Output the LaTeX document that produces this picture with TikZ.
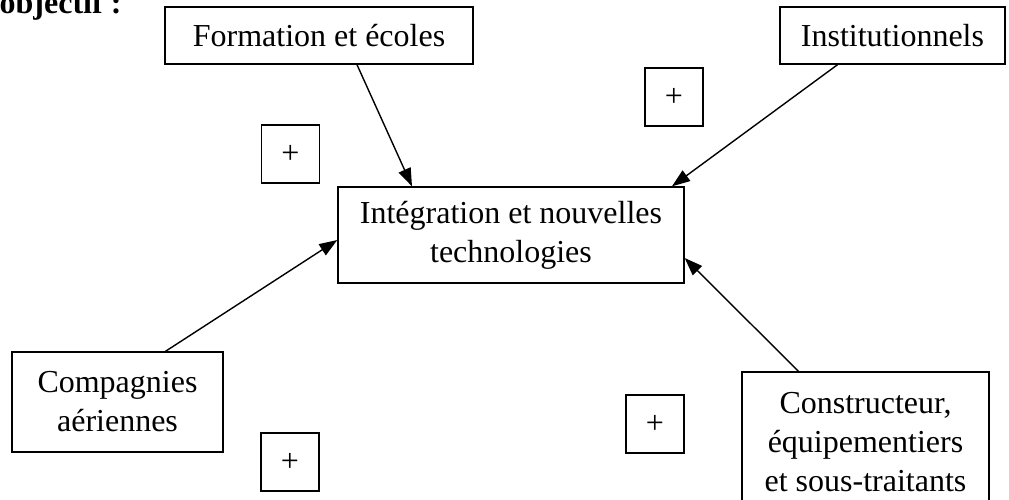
\documentclass[tikz,border=0pt]{standalone}
\usepackage{fontspec}
\setmainfont{Liberation Serif}
\usetikzlibrary{arrows.meta}

\begin{document}
\begin{tikzpicture}[x=1pt, y=-1pt, line width=1.4pt, >={Triangle[length=18pt,width=13pt]},
  txt/.style={font=\fontsize{32}{39}\selectfont},
  main box/.style={draw, txt, inner sep=0pt, align=center},
  plus box/.style={main box, minimum size=58pt}]
\useasboundingbox (0,0) rectangle (1009,499);
\node[anchor=base west, inner sep=0pt, font=\bfseries\fontsize{32}{39}\selectfont] (titre) at (-1,13) {objectif :};
\begin{scope}
\node[main box, minimum width=308pt, minimum height=57pt] (form) at (319,35.5) {Formation et écoles};
\node[main box, minimum width=225pt, minimum height=57pt] (inst) at (892.5,35.5) {Institutionnels};
\node[main box, minimum width=346pt, minimum height=96pt] (tech) at (511,235) {Intégration et nouvelles\\technologies};
\node[main box, minimum width=211pt, minimum height=100pt] (comp) at (117.5,402) {Compagnies\\aériennes};
\node[main box, minimum width=247pt, minimum height=140pt] (cons) at (865.5,442) {Constructeur,\\équipementiers\\et sous-traitants};
\end{scope}
\begin{scope}
\node[plus box] (p1) at (674,97) {+};
\node[plus box] (p2) at (290.5,154) {+};
\node[plus box] (p3) at (290,462) {+};
\node[plus box] (p4) at (655,424) {+};
\end{scope}
\begin{scope}
\draw[->] ([xshift=38pt]form.south) -- ([xshift=-99pt]tech.north);
\draw[->] ([xshift=-55pt]inst.south) -- ([xshift=161pt]tech.north);
\draw[->] ([xshift=48pt]comp.north) -- ([yshift=-5pt]tech.west);
\draw[->] ([xshift=-67pt]cons.north) -- ([yshift=-23pt]tech.east);
\end{scope}
\end{tikzpicture}
\end{document}
